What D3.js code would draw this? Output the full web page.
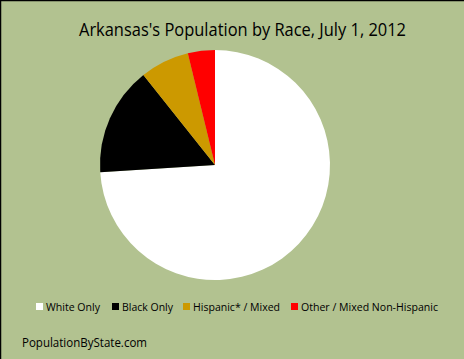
<!DOCTYPE html>
<html><head><meta charset="utf-8">
<script src="https://cdn.jsdelivr.net/npm/d3@7"></script>
<style>html,body{margin:0;padding:0;background:#b2c290;}svg{display:block}</style>
</head><body>
<script>
const categories = ["White Only", "Black Only", "Hispanic* / Mixed", "Other / Mixed Non-Hispanic"];
const values = [74.0, 15.3, 6.9, 3.8];
const colors = ["#ffffff", "#000000", "#cc9900", "#ff0000"];
const title = "Arkansas's Population by Race, July 1, 2012";
const footer = "PopulationByState.com";

const W = 464, H = 359;
const svg = d3.select("body").append("svg").attr("width", W).attr("height", H);
svg.append("rect").attr("width", W).attr("height", H).attr("fill", "#b2c290");
svg.append("line").attr("x1", 0.5).attr("y1", 0).attr("x2", 0.5).attr("y2", H).attr("stroke", "#000").attr("stroke-width", 1.5);
svg.append("line").attr("x1", 0).attr("y1", 0.5).attr("x2", W).attr("y2", 0.5).attr("stroke", "#000").attr("stroke-width", 1.5);

svg.append("text").attr("x", 79).attr("y", 36).attr("textLength", 327).attr("lengthAdjust", "spacingAndGlyphs")
  .attr("font-family", "Open Sans, sans-serif").attr("font-size", 17.5).attr("fill", "#000").text(title);

const pie = d3.pie().sort(null).value(d => d)(values);
const arc = d3.arc().innerRadius(0).outerRadius(115);
const g = svg.append("g").attr("transform", "translate(215,165)");
g.selectAll("path").data(pie).join("path").attr("d", arc).attr("fill", (d, i) => colors[i]);

const legX = [36, 112, 183, 291];
const legW = [54, 51, 87, 137];
const lg = svg.append("g");
categories.forEach((c, i) => {
  lg.append("rect").attr("x", legX[i]).attr("y", 303).attr("width", 7).attr("height", 7).attr("fill", colors[i]);
  lg.append("text").attr("x", legX[i] + 10).attr("y", 311).attr("textLength", legW[i]).attr("lengthAdjust", "spacingAndGlyphs")
    .attr("font-family", "Open Sans, sans-serif").attr("font-size", 11).attr("fill", "#000").text(c);
});

svg.append("text").attr("x", 22).attr("y", 347).attr("textLength", 125).attr("lengthAdjust", "spacingAndGlyphs")
  .attr("font-family", "Open Sans, sans-serif").attr("font-size", 12).attr("fill", "#000").text(footer);
</script>
</body></html>
